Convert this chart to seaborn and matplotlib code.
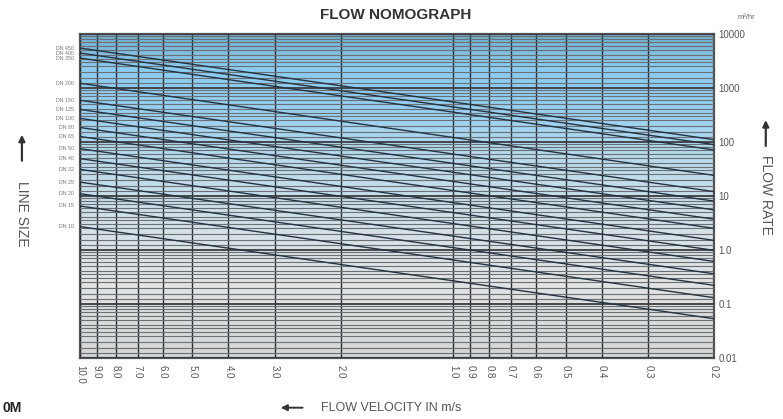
"""
Flow nomograph: flow rate vs flow velocity for a set of line sizes
"""

import numpy as np
import pandas as pd
import seaborn as sns
import matplotlib.pyplot as plt
from matplotlib.colors import LinearSegmentedColormap
from matplotlib.ticker import FixedLocator, FixedFormatter, LogLocator, NullFormatter
from matplotlib.transforms import blended_transform_factory


# line sizes and flow rate (m3/hr) read at both ends of each line
line_sizes = ["DN 450", "DN 400", "DN 350", "DN 200", "DN 150", "DN 125",
              "DN 100", "DN 80", "DN 65", "DN 50", "DN 40", "DN 32",
              "DN 25", "DN 20", "DN 15", "DN 10"]
flow_at_10 = [5480, 4430, 3570, 1220, 590, 400, 273, 185, 126, 75, 49, 31,
              18, 11, 6.5, 2.7]
flow_at_02 = [110, 89, 71, 24, 12, 8.0, 5.5, 3.7, 2.5, 1.5, 0.98, 0.61,
              0.36, 0.22, 0.13, 0.053]
velocity_ends = [10.0, 0.2]

velocity_ticks = [10.0, 9.0, 8.0, 7.0, 6.0, 5.0, 4.0, 3.0, 2.0, 1.0, 0.9,
                  0.8, 0.7, 0.6, 0.5, 0.4, 0.3, 0.2]
velocity_labels = ["10.0", "9.0", "8.0", "7.0", "6.0", "5.0", "4.0", "3.0",
                   "2.0", "1.0", "0.9", "0.8", "0.7", "0.6", "0.5", "0.4",
                   "0.3", "0.2"]
flow_ticks = [0.01, 0.1, 1, 10, 100, 1000, 10000]
flow_labels = ["0.01", "0.1", "1.0", "10", "100", "1000", "10000"]


def build_lines() -> pd.DataFrame:
    rows = []
    for size, q_hi, q_lo in zip(line_sizes, flow_at_10, flow_at_02):
        rows.append({"size": size, "velocity": velocity_ends[0], "flow": q_hi})
        rows.append({"size": size, "velocity": velocity_ends[1], "flow": q_lo})
    return pd.DataFrame(rows)


def arrow(fig, tail, head, lw=1.6):
    fig.patches.append(plt.matplotlib.patches.FancyArrowPatch(
        tail, head, transform=fig.transFigure, arrowstyle="-|>",
        mutation_scale=9, linewidth=lw, color="#333333"))


def main():
    sns.set_style("white")
    plt.rcParams["font.family"] = ["Liberation Sans", "DejaVu Sans"]

    fig = plt.figure(figsize=(7.83, 4.19), dpi=100)
    ax = fig.add_axes([0.102, 0.146, 0.810, 0.773])

    # background tint: blue at the top fading to grey at the bottom
    cmap = LinearSegmentedColormap.from_list("bg", [
        (0.0, "#d3d5d6"), (0.25, "#e2e4e5"), (0.45, "#d0e0e9"),
        (0.62, "#b8daed"), (0.78, "#94cff1"), (0.9, "#8acbef"),
        (1.0, "#74aecf")])
    grad = np.linspace(0, 1, 256).reshape(-1, 1)
    ax.imshow(grad, cmap=cmap, origin="lower", aspect="auto",
              extent=(0, 1, 0, 1), transform=ax.transAxes, zorder=0)

    df = build_lines()
    sns.lineplot(data=df, x="velocity", y="flow", units="size",
                 estimator=None, color="#243341", linewidth=1.0,
                 ax=ax, zorder=3, legend=False)

    ax.set_xscale("log")
    ax.set_yscale("log")
    ax.set_xlim(10.0, 0.2)
    ax.set_ylim(0.01, 10000)

    ax.xaxis.set_major_locator(FixedLocator(velocity_ticks))
    ax.xaxis.set_major_formatter(FixedFormatter(velocity_labels))
    ax.xaxis.set_minor_locator(FixedLocator([]))
    ax.yaxis.set_major_locator(FixedLocator(flow_ticks))
    ax.yaxis.set_major_formatter(FixedFormatter(flow_labels))
    ax.yaxis.set_minor_locator(LogLocator(
        base=10, subs=[1.25, 1.5, 2, 2.5, 3, 3.5, 4, 5, 6, 7, 8, 9],
        numticks=100))
    ax.yaxis.set_minor_formatter(NullFormatter())

    ax.grid(True, axis="x", which="major", color="#2b2f33", linewidth=1.0,
            zorder=2)
    ax.grid(True, axis="y", which="major", color="#3a3d40", linewidth=1.3,
            zorder=2)
    ax.grid(True, axis="y", which="minor", color="#6a7074", linewidth=0.8,
            zorder=2)
    ax.set_axisbelow(False)

    ax.yaxis.tick_right()
    ax.tick_params(axis="y", which="both", length=0, labelsize=7,
                   labelcolor="#555555", pad=3)
    ax.tick_params(axis="x", which="both", length=3, labelsize=7,
                   labelcolor="#555555", labelrotation=270, pad=2,
                   color="#555555")
    for spine in ax.spines.values():
        spine.set_color("#555555")
        spine.set_linewidth(1.6)

    ax.set_xlabel("")
    ax.set_ylabel("")

    # line size labels down the left edge
    trans = blended_transform_factory(ax.transAxes, ax.transData)
    for size, q in zip(line_sizes, flow_at_10):
        ax.text(-0.01, q, size, transform=trans, ha="right", va="center",
                fontsize=3.8, color="#777777")

    fig.text(0.505, 0.965, "FLOW NOMOGRAPH", ha="center", va="center",
             fontsize=11, fontweight="bold", color="#333333")
    fig.text(0.953, 0.958, "m\u00b3/hr", ha="center", va="center",
             fontsize=5.5, color="#666666")

    fig.text(0.028, 0.49, "LINE SIZE", rotation=270, ha="center",
             va="center", fontsize=10, color="#555555")
    arrow(fig, (0.028, 0.61), (0.028, 0.685))
    fig.text(0.978, 0.535, "FLOW RATE", rotation=270, ha="center",
             va="center", fontsize=10, color="#555555")
    arrow(fig, (0.978, 0.645), (0.978, 0.72))
    fig.text(0.41, 0.027, "FLOW VELOCITY IN m/s", ha="left",
             va="center", fontsize=9, color="#555555")
    arrow(fig, (0.39, 0.027), (0.355, 0.027), lw=1.4)
    fig.text(0.003, 0.027, "0M", ha="left", va="center", fontsize=10,
             fontweight="bold", color="#222222")

    fig.savefig("out.png", dpi=100)


if __name__ == "__main__":
    main()
